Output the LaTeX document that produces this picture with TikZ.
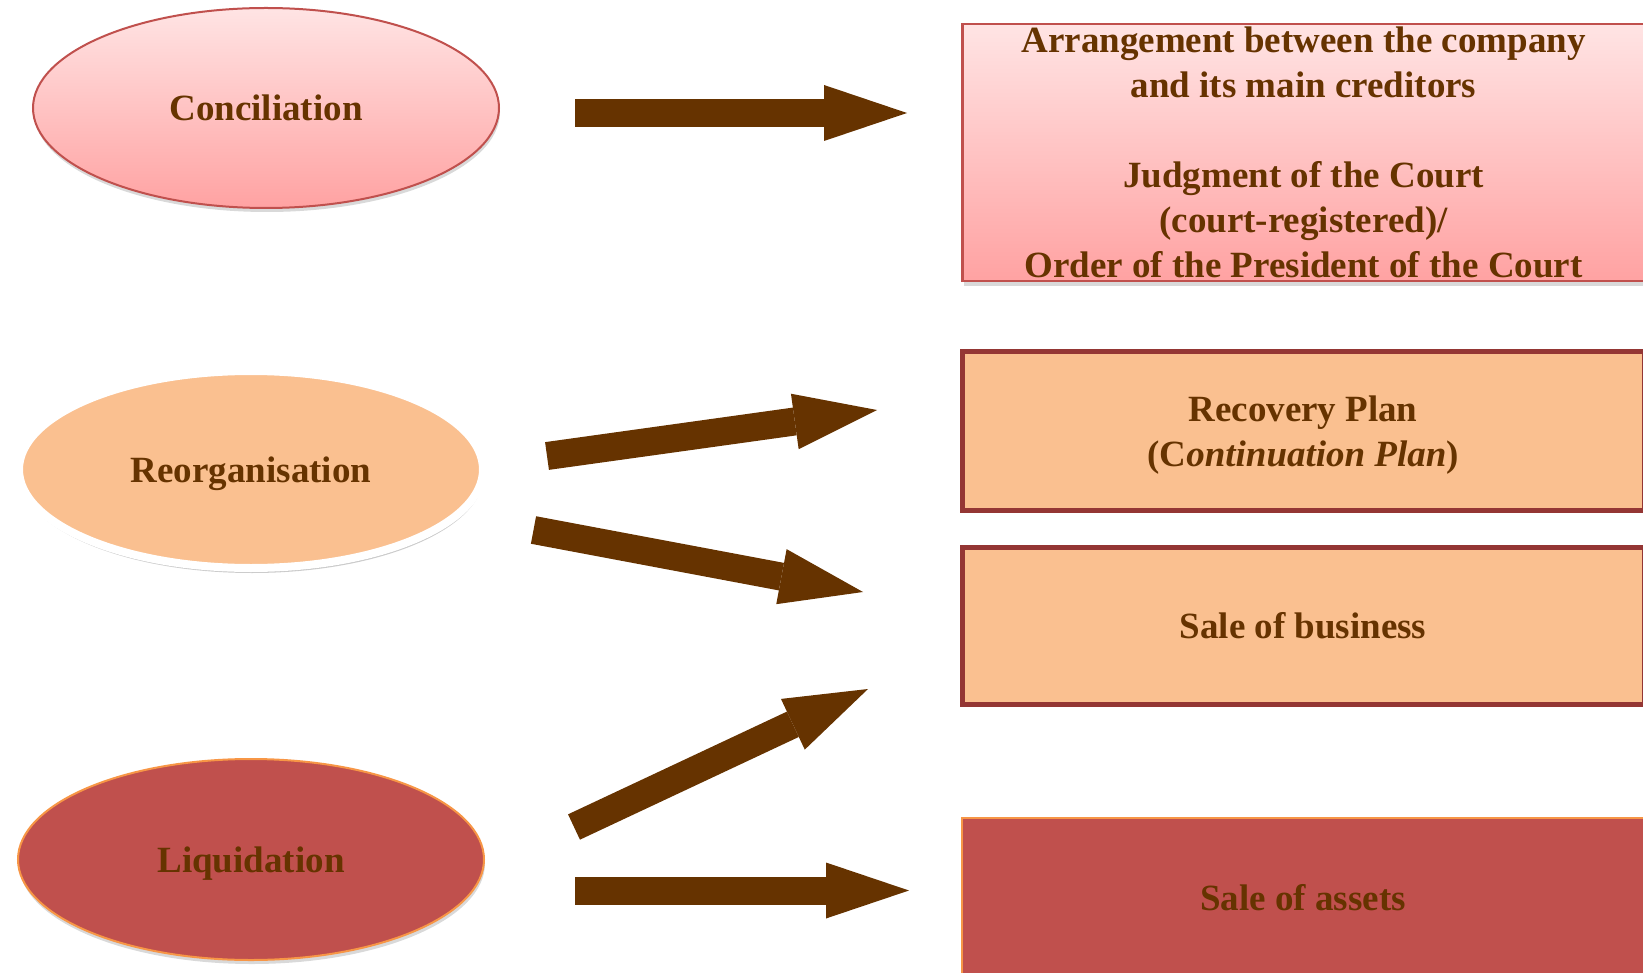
\documentclass[tikz,border=0pt]{standalone}
\usepackage{fontspec}
\setmainfont{Liberation Serif}
\usetikzlibrary{shapes.geometric,arrows.meta,shadows}

\definecolor{txtbrown}{HTML}{663300}
\definecolor{pinktop}{HTML}{FFE4E4}
\definecolor{pinkbot}{HTML}{FFA2A2}
\definecolor{redline}{HTML}{C0504D}
\definecolor{peach}{HTML}{FAC090}
\definecolor{darkred}{HTML}{943634}
\definecolor{orangeline}{HTML}{F79646}

\begin{document}
\begin{tikzpicture}[x=1pt,y=-1pt,
			every node/.style = {font=\fontsize{37}{45}\selectfont\bfseries, text=txtbrown,
				align=center, text depth=0pt},
			stage/.style = {shape=ellipse, inner sep=0pt,
				drop shadow={opacity=0.3, shadow xshift=1pt, shadow yshift=-4pt}},
			outcome/.style = {shape=rectangle, inner sep=0pt, minimum width=682pt},
			%bigarrow/.style = {draw=txtbrown, line width=28pt, -Latex},
			bigarrow/.style = {draw=txtbrown, line width=28pt,
				-{Triangle[length=83pt, width=56pt, line width=0pt]}}]

			\useasboundingbox (0,0) rectangle (1643,973);
			\clip (0,0) rectangle (1643,973);

			% procedures
			\node[stage, top color=pinktop, bottom color=pinkbot, draw=redline, line width=2pt,
				minimum width=466pt, minimum height=200pt] (conc) at (266,108) {Conciliation};
			\node[stage, fill=peach, draw=white, line width=8pt,
				drop shadow={opacity=0.4, shadow xshift=1pt, shadow yshift=-5pt},
				minimum width=464pt, minimum height=197pt] (reorg) at (251,469.5) {Reorganisation};
			\node[stage, fill=redline, draw=orangeline, line width=2pt,
				minimum width=466pt, minimum height=201pt] (liq) at (251,859.5) {Liquidation};

			% outcomes
			\node[outcome, top color=pinktop, bottom color=pinkbot, draw=redline, line width=2.5pt,
				minimum height=257pt, drop shadow={opacity=0.3, shadow xshift=1pt, shadow yshift=-5pt}]
				(arr) at (1303.5,152.5) {Arrangement between the company\\ and its main creditors\\[45pt]
				Judgment of the Court\\ (court-registered)/\\ Order of the President of the Court};
			\node[outcome, fill=peach, draw=darkred, line width=5pt, minimum height=158pt]
				(plan) at (1303,431) {Recovery Plan\\ (C\textit{ontinuation Plan})};
			\node[outcome, fill=peach, draw=darkred, line width=5pt, minimum height=157pt]
				(sale) at (1303,625.5) {Sale of business};
			\node[outcome, fill=redline, draw=orangeline, line width=2pt, minimum height=159pt]
				(assets) at (1303,897.5) {Sale of assets};

			% arrow ends
			\coordinate (c1) at (575,113);   \coordinate (c2) at (907,113);
			\coordinate (r1) at (547,456);   \coordinate (r2) at (877,410);
			\coordinate (r3) at (533.5,530); \coordinate (r4) at (863,592);
			\coordinate (l1) at (574,827);   \coordinate (l2) at (868,689);
			\coordinate (l3) at (575,890.5); \coordinate (l4) at (909,890.5);

			\draw[bigarrow] (c1) -- (c2);
			\draw[bigarrow] (r1) -- (r2);
			\draw[bigarrow] (r3) -- (r4);
			\draw[bigarrow] (l1) -- (l2);
			\draw[bigarrow] (l3) -- (l4);
			\end{tikzpicture}
\end{document}
